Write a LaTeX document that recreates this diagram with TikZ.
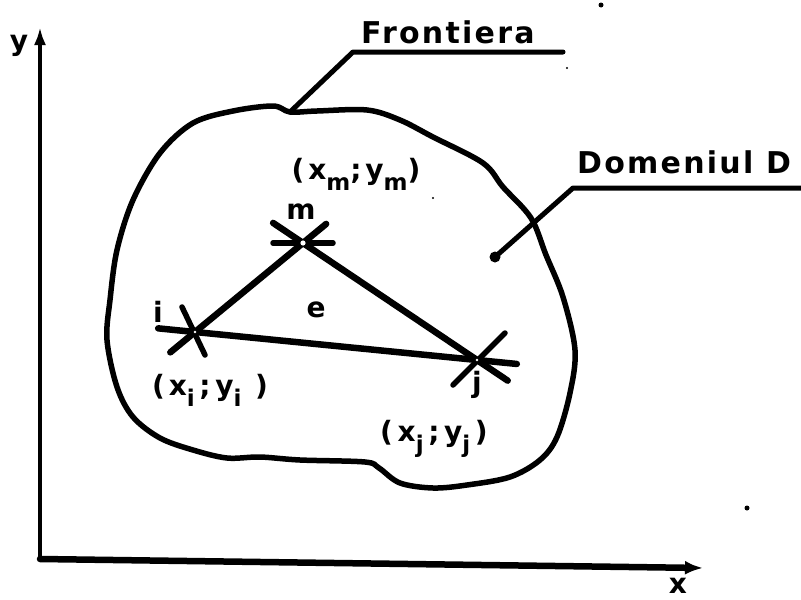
\documentclass[tikz,border=0pt]{standalone}
\usepackage{fontspec}
\setmainfont{DejaVu Sans}[LetterSpace=7.5]
\usetikzlibrary{calc,arrows.meta}
\newcommand{\sbx}[1]{\raisebox{-0.42em}{\fontsize{23}{23}\selectfont #1}}
\tikzset{
  stroke/.style={line width=5.5pt, line cap=round, line join=round},
  edge/.style={line width=6.5pt, line cap=round, line join=round},
  leader/.style={line width=5pt, line cap=round, line join=round},
  bigtxt/.style={font=\fontsize{30}{32}\selectfont\bfseries, inner sep=0pt},
  lbl/.style={font=\fontsize{28}{30}\selectfont\bfseries\addfontfeatures{LetterSpace=14}, inner sep=0pt},
  hole/.style={fill=white, draw=none},
  speck/.style={fill=black, draw=none},
}
\begin{document}
\begin{tikzpicture}[x=1pt,y=-1pt]
\useasboundingbox (0,0) rectangle (801,600);
\fill[white] (0,0) rectangle (801,600);

% axes
\coordinate (o) at (40,559);
\coordinate (ytip) at (40,27);
\coordinate (xtip) at (703,568);
\draw[line width=4pt, line cap=round, -{Latex[length=18pt,width=12pt]}] (o) -- (ytip);
\draw[line width=6.5pt, line cap=round, -{Latex[length=18pt,width=14pt]}] (o) -- (xtip);
\node[lbl] (ylab) at (19,46) {y};
\node[lbl, anchor=south] (xlab) at (678,594) {x};

% boundary
\draw[stroke] plot[smooth cycle, tension=0.55] coordinates {
 (273,106) (290,112) (317,111) (367,110) (400,120) (433,137) (483,163)
 (503,187) (531,218) (546,255) (563,297) (575,350) (570,393) (557,437)
 (540,460) (510,477) (467,485) (433,488) (400,483) (379,468) (365,462)
 (300,460) (260,457) (227,458) (193,450) (160,438) (133,417) (117,387)
 (107,340) (110,300) (117,250) (133,200) (160,153) (193,123) (233,111)};

% labels with leaders
\coordinate (fpt) at (290,112);
\coordinate (fk) at (353,52);
\coordinate (fe) at (563,52);
\draw[leader] (fpt) -- (fk) -- (fe);
\node[bigtxt, anchor=base west] (front) at (361,43) {Frontiera};

\coordinate (dpt) at (495,257);
\coordinate (dk) at (573,188);
\coordinate (de) at (801,188);
\draw[leader] (dpt) -- (dk) -- (de);
\fill (dpt) circle (5.5pt);
\node[bigtxt, anchor=base west] (dom) at (577,173) {Domeniul D};

% element nodes
\coordinate (ni) at (195,332);
\coordinate (nj) at (477,360);
\coordinate (nm) at (303,243);

\draw[edge] ($(ni)!-37pt!(nj)$) -- ($(nj)!-40pt!(ni)$);
\draw[edge] ($(ni)!-32pt!(nm)$) -- ($(nm)!-30pt!(ni)$);
\draw[edge] ($(nm)!-36pt!(nj)$) -- ($(nj)!-37pt!(nm)$);
% cross strokes
\draw[stroke] ($(ni)+(-13,-25)$) -- ($(ni)+(10,23)$);
\draw[stroke] ($(nm)+(-30,0)$) -- ($(nm)+(30,0)$);
\draw[stroke] ($(nj)+(28,-27)$) -- ($(nj)+(-24,25)$);
\fill[hole] (nm) circle (2.6pt);
\fill[hole] (ni) circle (1.4pt);
\fill[hole] (nj) circle (1.4pt);

\node[lbl] (li) at (158,312) {i};
\node[lbl] (lm) at (301,212) {m};
\node[lbl] (le) at (316,310) {e};
\node[lbl] (lj) at (477,385) {j};

\node[lbl, anchor=base] (ci) at (210,395) {(x\sbx{i}\,;\,y\sbx{i}\ )};
\node[lbl, anchor=base] (cj) at (434,441) {(\,x\sbx{j}\,;\,y\sbx{j}\,)};
\node[lbl, anchor=base] (cm) at (356,179) {(x\sbx{m};y\sbx{m})};

% specks
\fill[speck] (601,5) circle (2.5pt);
\fill[speck] (567,68) circle (1.2pt);
\fill[speck] (747,508) circle (2.5pt);
\fill[speck] (433,198) circle (1.2pt);
\end{tikzpicture}
\end{document}
